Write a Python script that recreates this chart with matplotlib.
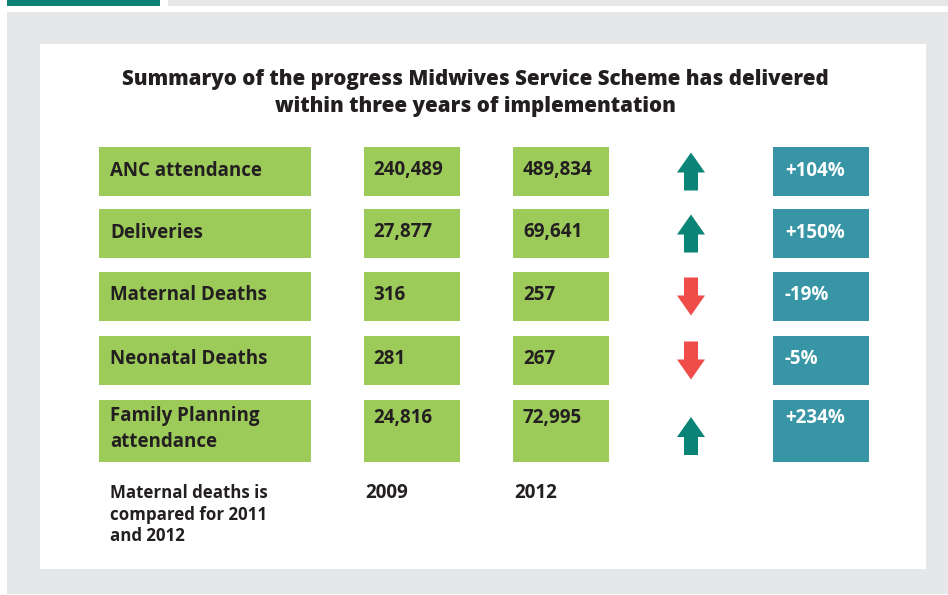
import matplotlib
matplotlib.use("Agg")
import matplotlib.pyplot as plt
from matplotlib.patches import Rectangle, Polygon

plt.rcParams["font.family"] = ["Open Sans", "DejaVu Sans"]

# ===== 数据 =====
TITLE = "Summaryo of the progress Midwives Service Scheme has delivered\nwithin three years of implementation"
LABELS = ["ANC attendance", "Deliveries", "Maternal Deaths", "Neonatal Deaths",
          "Family Planning\nattendance"]
VAL_2009 = ["240,489", "27,877", "316", "281", "24,816"]
VAL_2012 = ["489,834", "69,641", "257", "267", "72,995"]
CHANGE = ["+104%", "+150%", "-19%", "-5%", "+234%"]
DIRECTION = ["up", "up", "down", "down", "up"]
YEARS = ["2009", "2012"]
NOTE = "Maternal deaths is\ncompared for 2011\nand 2012"

# ===== 样式 =====
GRAY = "#e6e7e8"
TEAL_TOP = "#0b8177"
GREEN = "#9ccb5a"
BOX_TEAL = "#3895a5"
UP_C = "#0b8478"
DOWN_C = "#ef4d4a"
TXT = "#231f20"

# 行位置 (top, bottom)，像素
ROWS = [(147, 196), (209, 258), (272, 321), (336, 385), (400, 462)]
COLS = {"label": (99, 311), "v09": (364, 460), "v12": (513, 609), "chg": (773, 869)}
ARROW_X = 691

fig = plt.figure(figsize=(9.48, 5.95), dpi=100)
ax = fig.add_axes([0, 0, 1, 1])
ax.set_xlim(0, 948)
ax.set_ylim(595, 0)
ax.axis("off")

# 背景
ax.add_patch(Rectangle((7, 0), 153, 6, color=TEAL_TOP, lw=0))
ax.add_patch(Rectangle((168, 0), 780, 6, color=GRAY, lw=0))
ax.add_patch(Rectangle((7, 12), 941, 582, color=GRAY, lw=0))
ax.add_patch(Rectangle((40, 44), 886, 525, color="white", lw=0))

ax.text(475, 93, TITLE, ha="center", va="center", fontsize=14.8,
        fontweight="heavy", color=TXT, linespacing=1.38)


def box(col, top, bot, color):
    x0, x1 = COLS[col]
    ax.add_patch(Rectangle((x0, top), x1 - x0, bot - top, color=color, lw=0))


for i, (top, bot) in enumerate(ROWS):
    tall = bot - top > 55
    ty = top + 18 if tall else (top + bot) / 2 - 1
    box("label", top, bot, GREEN)
    box("v09", top, bot, GREEN)
    box("v12", top, bot, GREEN)
    box("chg", top, bot, BOX_TEAL)
    if tall:
        ax.text(110, top + 6, LABELS[i], ha="left", va="top", fontsize=13.5,
                fontweight="bold", color=TXT, linespacing=1.4)
    else:
        ax.text(110, ty, LABELS[i], ha="left", va="center", fontsize=13.5,
                fontweight="bold", color=TXT)
    ax.text(373, ty, VAL_2009[i], ha="left", va="center", fontsize=13.5,
            fontweight="bold", color=TXT)
    ax.text(523, ty, VAL_2012[i], ha="left", va="center", fontsize=13.5,
            fontweight="bold", color=TXT)
    ax.text(785, ty, CHANGE[i], ha="left", va="center", fontsize=13.5,
            fontweight="bold", color="white")

    # 箭头
    cy = (top + bot) / 2 + (5 if tall else 0)
    hh, sh = 20, 18  # head height, shaft height
    hw, sw = 14, 7   # half widths
    if DIRECTION[i] == "up":
        tip = cy - (hh + sh) / 2
        pts = [(ARROW_X, tip), (ARROW_X + hw, tip + hh), (ARROW_X + sw, tip + hh),
               (ARROW_X + sw, tip + hh + sh), (ARROW_X - sw, tip + hh + sh),
               (ARROW_X - sw, tip + hh), (ARROW_X - hw, tip + hh)]
        c = UP_C
    else:
        tip = cy + (hh + sh) / 2
        pts = [(ARROW_X, tip), (ARROW_X + hw, tip - hh), (ARROW_X + sw, tip - hh),
               (ARROW_X + sw, tip - hh - sh), (ARROW_X - sw, tip - hh - sh),
               (ARROW_X - sw, tip - hh), (ARROW_X - hw, tip - hh)]
        c = DOWN_C
    ax.add_patch(Polygon(pts, closed=True, color=c, lw=0))

ax.text(110, 484, NOTE, ha="left", va="top", fontsize=12.2, fontweight="bold",
        color=TXT, linespacing=1.25)
ax.text(365, 493, YEARS[0], ha="left", va="center", fontsize=13.5,
        fontweight="bold", color=TXT)
ax.text(514, 493, YEARS[1], ha="left", va="center", fontsize=13.5,
        fontweight="bold", color=TXT)

fig.savefig("out.png", dpi=100)
